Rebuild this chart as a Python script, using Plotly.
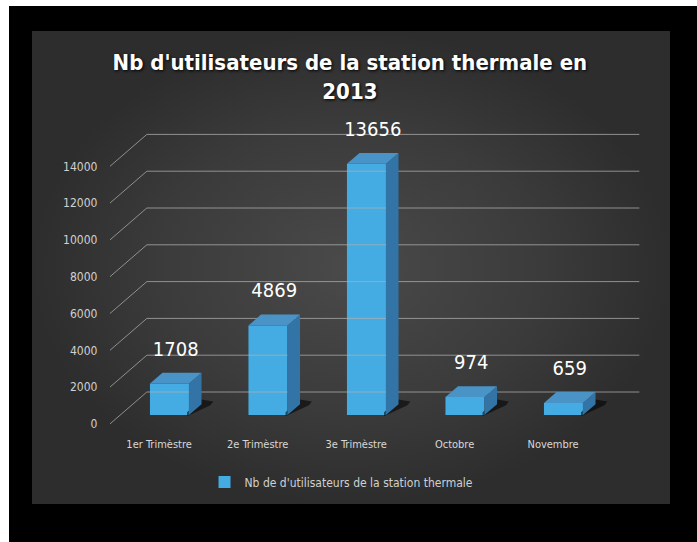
import plotly.graph_objects as go

# ---------------- data ----------------
categories = ["1er Trimèstre", "2e Trimèstre", "3e Trimèstre", "Octobre", "Novembre"]
values = [1708, 4869, 13656, 974, 659]
y_ticks = [0, 2000, 4000, 6000, 8000, 10000, 12000, 14000]
y_tick_text = ["0", "2000", "4000", "6000", "8000", "10000", "12000", "14000"]
title_text = "Nb d'utilisateurs de la station thermale en<br>2013"
series_name = "Nb de d'utilisateurs de la station thermale"

# ---------------- style / geometry constants ----------------
W, H = 697, 542
DEPTH_X = 0.3756      # full floor depth, in category units
DEPTH_Y = 1739        # full floor depth, in value units
BAR_FRONT = 0.28      # depth fraction of bar front face
BAR_BACK = 0.62       # depth fraction of bar back face
BAR_W = 0.396         # bar width in category units
X_RANGE = [-0.5, 5.0]
Y_RANGE = [-330, 16500]
PX_L, PX_R = 109.85, 651.6
PX_T, PX_B = 120.4, 430.07
PANEL = (32, 31, 670, 504)   # x0, y0, x1, y1 in pixels
FONT = "DejaVu Sans Condensed"

FRONT_C = "#44ace2"
TOP_C = "#4a93c6"
SIDE_C = "#3274a6"

xs = list(range(len(categories)))
fdx = BAR_FRONT * DEPTH_X
fdy = BAR_FRONT * DEPTH_Y
bdx = (BAR_BACK - BAR_FRONT) * DEPTH_X
bdy = (BAR_BACK - BAR_FRONT) * DEPTH_Y

fig = go.Figure()

# ---------- background (pixel axes x/y) ----------
fig.add_trace(go.Scatter(
    x=[9, W, W, 9, 9], y=[6, 6, H, H, 6], mode="lines", fill="toself",
    fillcolor="black", line=dict(width=0), hoverinfo="skip", showlegend=False,
    xaxis="x", yaxis="y"))
px0, py0, px1, py1 = PANEL
fig.add_trace(go.Scatter(
    x=[px0, px1, px1, px0, px0], y=[py0, py0, py1, py1, py0], mode="lines",
    fill="toself", line=dict(width=0),
    fillgradient=dict(type="radial",
                      colorscale=[[0, "#4a4a4a"], [0.6, "#3b3b3b"], [1, "#2d2d2d"]]),
    hoverinfo="skip", showlegend=False, xaxis="x", yaxis="y"))

# ---------- perspective gridlines ----------
gx, gy = [], []
x_lo, x_hi = xs[0] - 0.5, xs[-1] + 0.5
for v in y_ticks:
    gx += [x_lo, x_lo + DEPTH_X, x_hi + DEPTH_X, None]
    gy += [v, v + DEPTH_Y, v + DEPTH_Y, None]
fig.add_trace(go.Scatter(
    x=gx, y=gy, mode="lines", line=dict(color="rgba(175,175,175,0.75)", width=1),
    hoverinfo="skip", showlegend=False, xaxis="x2", yaxis="y2"))

# ---------- bar shadows ----------
sx, sy = [], []
for i, v in zip(xs, values):
    xr = i + fdx + BAR_W / 2
    sx += [xr - 0.02, xr + bdx + 0.09, xr + bdx + 0.12, xr + bdx, xr - 0.02, None]
    sy += [fdy - 60, fdy + bdy - 60, fdy + bdy + 150, fdy + bdy + 250, fdy + 150, None]
fig.add_trace(go.Scatter(
    x=sx, y=sy, mode="lines", fill="toself", fillcolor="rgba(0,0,0,0.55)",
    line=dict(width=0), hoverinfo="skip", showlegend=False, xaxis="x2", yaxis="y2"))

# ---------- bar front faces ----------
fig.add_trace(go.Bar(
    x=[i + fdx for i in xs], y=values, base=[fdy] * len(values), width=BAR_W,
    marker=dict(color=FRONT_C, line=dict(width=0)), name=series_name,
    xaxis="x2", yaxis="y2"))

# ---------- bar side faces ----------
sdx, sdy = [], []
for i, v in zip(xs, values):
    xr = i + fdx + BAR_W / 2
    sdx += [xr, xr + bdx, xr + bdx, xr, xr, None]
    sdy += [fdy, fdy + bdy, fdy + v + bdy, fdy + v, fdy, None]
fig.add_trace(go.Scatter(
    x=sdx, y=sdy, mode="lines", fill="toself", fillcolor=SIDE_C,
    line=dict(width=0), hoverinfo="skip", showlegend=False, xaxis="x2", yaxis="y2"))

# ---------- bar top faces ----------
tdx, tdy = [], []
for i, v in zip(xs, values):
    xl = i + fdx - BAR_W / 2
    xr = i + fdx + BAR_W / 2
    t = fdy + v
    tdx += [xl, xr, xr + bdx, xl + bdx, xl, None]
    tdy += [t, t, t + bdy, t + bdy, t, None]
fig.add_trace(go.Scatter(
    x=tdx, y=tdy, mode="lines", fill="toself", fillcolor=TOP_C,
    line=dict(width=0), hoverinfo="skip", showlegend=False, xaxis="x2", yaxis="y2"))

# ---------- data labels ----------
fig.add_trace(go.Scatter(
    x=[i + fdx + bdx / 2 for i in xs],
    y=[fdy + v + bdy + 1200 for v in values],
    mode="text", text=[str(v) for v in values], textposition="middle center",
    textfont=dict(family=FONT, size=20, color="white"),
    hoverinfo="skip", showlegend=False, cliponaxis=False, xaxis="x2", yaxis="y2"))

fig.update_layout(
    width=W, height=H, autosize=False,
    margin=dict(l=0, r=0, t=0, b=0),
    paper_bgcolor="white", plot_bgcolor="rgba(0,0,0,0)",
    title=dict(text=title_text, x=0.502, xanchor="center", y=1 - 70 / H, yanchor="middle",
               font=dict(family=FONT, size=22, color="white", weight="bold",
                         shadow="1px 1px 3px #000")),
    xaxis=dict(domain=[0, 1], range=[0, W], visible=False, fixedrange=True),
    yaxis=dict(domain=[0, 1], range=[H, 0], visible=False, fixedrange=True),
    xaxis2=dict(domain=[PX_L / W, PX_R / W], range=X_RANGE, anchor="y2",
                tickvals=xs, ticktext=categories, showgrid=False, zeroline=False,
                showline=False, ticks="outside", ticklen=4, tickcolor="rgba(0,0,0,0)",
                tickfont=dict(family=FONT, size=11, color="#d8d8d8")),
    yaxis2=dict(domain=[1 - PX_B / H, 1 - PX_T / H], range=Y_RANGE, anchor="x2",
                tickvals=y_ticks, ticktext=y_tick_text, showgrid=False, zeroline=False,
                showline=False, ticks="outside", ticklen=9, tickcolor="rgba(0,0,0,0)",
                tickfont=dict(family=FONT, size=12, color="#d0d0d0")),
    legend=dict(orientation="h", x=0.49, xanchor="center", y=1 - 482 / H, yanchor="middle",
                font=dict(family=FONT, size=12, color="#d0d0d0"),
                bgcolor="rgba(0,0,0,0)"),
    showlegend=True,
)

fig.write_html("out.html")
